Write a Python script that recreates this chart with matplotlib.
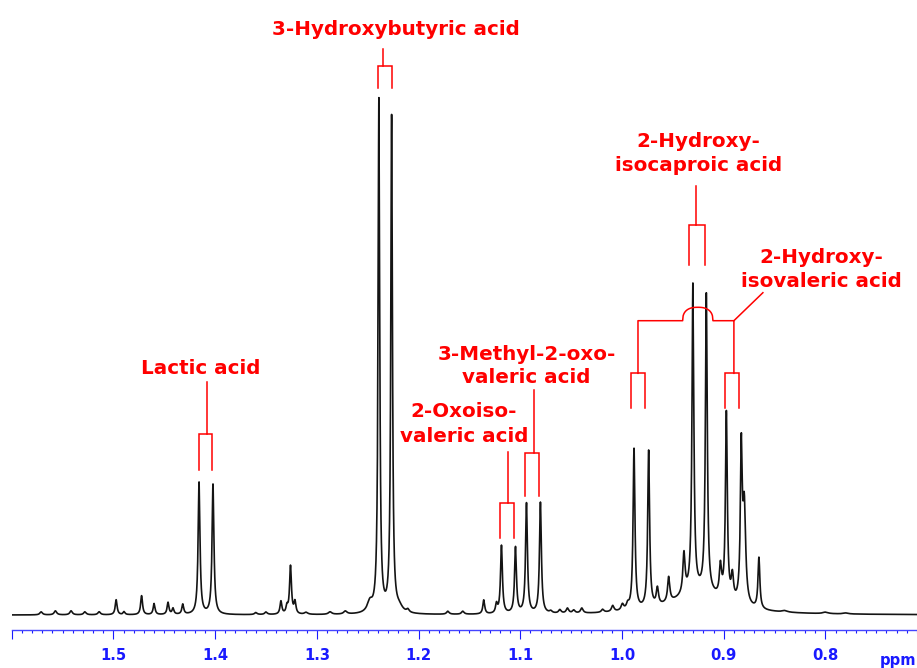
import numpy as np
import matplotlib
matplotlib.use("Agg")
import matplotlib.pyplot as plt

# ---- spectrum peak table (chemical shift in ppm, intensity, half width in ppm) ----
peak_ppm = [
    1.5710, 1.5570, 1.5416, 1.5280, 1.5140,
    1.4973, 1.4895, 1.4723, 1.4600, 1.4463, 1.4414, 1.4318,
    1.4158, 1.4021,
    1.3600, 1.3500,
    1.3353, 1.3294, 1.3259, 1.3215,
    1.3106, 1.2870, 1.2720,
    1.2479,
    1.2390, 1.2265,
    1.2190,
    1.2105, 1.1712, 1.1565,
    1.1359, 1.1234,
    1.1185, 1.1047,
    1.0939, 1.0802,
    1.0700, 1.0611, 1.0536, 1.0474, 1.0395,
    1.0190, 1.0091, 0.9996, 0.9944,
    0.9882, 0.9738,
    0.9652, 0.9541, 0.9391,
    0.9250,
    0.9303, 0.9171,
    0.9032, 0.8974, 0.8915,
    0.8827, 0.8798,
    0.8654,
    0.8400, 0.8000, 0.7800,
]
peak_height = [
    3, 4, 4, 3, 3,
    15, 3, 19, 11, 12, 6, 10,
    132, 130,
    2, 2.5,
    13, 7, 48, 12,
    2, 2.5, 3,
    10,
    513, 496,
    5,
    3, 3, 3,
    14, 9,
    68, 66,
    110, 111,
    2, 3.5, 5, 3, 5,
    3, 6, 6, 5,
    161, 157,
    17, 25, 40,
    22,
    307, 298,
    30, 187, 24,
    150, 95,
    51,
    1.5, 1.5, 1.0,
]
peak_width = [
    0.0015, 0.0015, 0.0015, 0.0015, 0.0015,
    0.0011, 0.0011, 0.0011, 0.0011, 0.0011, 0.0011, 0.0011,
    0.0011, 0.0011,
    0.0015, 0.0015,
    0.0011, 0.0011, 0.0011, 0.0011,
    0.0020, 0.0020, 0.0020,
    0.0030,
    0.00095, 0.00095,
    0.0040,
    0.0015, 0.0015, 0.0015,
    0.0011, 0.0011,
    0.0011, 0.0011,
    0.0011, 0.0011,
    0.0015, 0.0015, 0.0015, 0.0015, 0.0015,
    0.0015, 0.0015, 0.0015, 0.0015,
    0.0011, 0.0011,
    0.0013, 0.0013, 0.0013,
    0.0300,
    0.0011, 0.0011,
    0.0013, 0.0011, 0.0013,
    0.0011, 0.0016,
    0.0011,
    0.0030, 0.0030, 0.0030,
]

# ---- axis ----
major_ticks = [1.6, 1.5, 1.4, 1.3, 1.2, 1.1, 1.0, 0.9, 0.8]
major_labels = ["", "1.5", "1.4", "1.3", "1.2", "1.1", "1.0", "0.9", "0.8"]

RED = "#ff0000"
BLUE = "#1a1aff"
W, H = 917, 668
BASE_ROW = 615.0
AXIS_ROW = 629.5
LEFT_PX = 11.7

fig = plt.figure(figsize=(W / 100, H / 100), dpi=100)
ax = fig.add_axes([LEFT_PX / W, (H - AXIS_ROW) / H, (W - LEFT_PX) / W, AXIS_ROW / H])
ax.set_xlim(1.60, 0.7106)
ax.set_ylim(BASE_ROW - AXIS_ROW, BASE_ROW)

# Lorentzian line shapes summed on a fine shift grid
shift = np.linspace(0.70, 1.61, 18201)
spectrum = np.zeros_like(shift)
for c, h, w in zip(peak_ppm, peak_height, peak_width):
    spectrum += h / (1.0 + ((shift - c) / w) ** 2)
ax.plot(shift, spectrum, color="#141414", lw=1.2, solid_joinstyle="round")

ax.set_xticks(major_ticks)
ax.set_xticklabels(major_labels)
ax.set_xticks(np.round(np.arange(0.71, 1.6001, 0.01), 2), minor=True)
ax.tick_params(axis="x", which="major", direction="out", length=6.5, width=0.8,
               color=BLUE, labelcolor=BLUE, labelsize=10.6, pad=7)
ax.tick_params(axis="x", which="minor", direction="out", length=2.5, width=0.8, color=BLUE)
for lab in ax.get_xticklabels():
    lab.set_fontweight("bold")
    lab.set_family("DejaVu Sans")
ax.yaxis.set_visible(False)
for side in ("left", "right", "top"):
    ax.spines[side].set_visible(False)
ax.spines["bottom"].set_color("#4444ff")
ax.spines["bottom"].set_linewidth(1.0)
ax.patch.set_alpha(0)

fig.text(880 / W, 1 - 665 / H, "ppm", ha="left", va="baseline", color=BLUE,
         fontsize=10.6, fontweight="bold", family="DejaVu Sans")

# ---- assignment brackets and labels ----
LW = 1.1


def bracket(left, right, stem, stem_top, bar, leg_bottom):
    ax.plot([left, left, right, right], [leg_bottom, bar, bar, leg_bottom],
            color=RED, lw=LW, solid_joinstyle="miter", clip_on=False)
    if stem_top is not None:
        ax.plot([stem, stem], [bar, stem_top], color=RED, lw=LW, clip_on=False)


def label(lines, x, baselines):
    for txt, yb in zip(lines, baselines):
        ax.text(x, yb, txt, ha="center", va="baseline", color=RED, fontsize=14.3,
                fontweight="bold", family="DejaVu Sans")


# 3-Hydroxybutyric acid
bracket(1.2397, 1.2265, 1.2348, 566, 549, 527)
label(["3-Hydroxybutyric acid"], 1.2223, [580])

# Lactic acid
bracket(1.4158, 1.4027, 1.4083, 233.3, 181, 145)
label(["Lactic acid"], 1.4139, [240.7])

# 2-Oxoisovaleric acid
bracket(1.1195, 1.1061, 1.1120, 163.3, 111.7, 76.7)
label(["2-Oxoiso-", "valeric acid"], 1.1555, [198.3, 173.3])

# 3-Methyl-2-oxovaleric acid
bracket(1.0949, 1.0815, 1.0867, 225, 161.7, 119.3)
label(["3-Methyl-2-oxo-", "valeric acid"], 1.0940, [255, 231.7])

# 2-Hydroxyisocaproic acid
bracket(0.9345, 0.9188, 0.9276, 429, 390, 350)
label(["2-Hydroxy-", "isocaproic acid"], 0.9247, [468.3, 444.3])

# 2-Hydroxyisovaleric acid: two doublets joined by a connector that hops over
bracket(0.9908, 0.9777, None, None, 241.7, 207)
bracket(0.8984, 0.8851, None, None, 241.7, 207)
x_left, x_right = 0.9843, 0.8900
hop_l, hop_r = 0.9404, 0.9106
conn_y, hop_top = 294.3, 307.7
u = np.linspace(-1, 1, 60)
hop_x = (hop_l + hop_r) / 2 - u * (hop_l - hop_r) / 2
hop_y = conn_y + (hop_top - conn_y) * (1 - np.abs(u) ** 2.5) ** (1 / 2.5)
path_x = np.concatenate([[x_left, x_left], hop_x, [x_right, x_right]])
path_y = np.concatenate([[241.7, conn_y], hop_y, [conn_y, 241.7]])
ax.plot(path_x, path_y, color=RED, lw=LW, clip_on=False)
ax.plot([x_right, 0.8615], [conn_y, 322.3], color=RED, lw=LW, clip_on=False)
label(["2-Hydroxy-", "isovaleric acid"], 0.8043, [351.7, 328.3])

fig.savefig("out.png", dpi=100)
